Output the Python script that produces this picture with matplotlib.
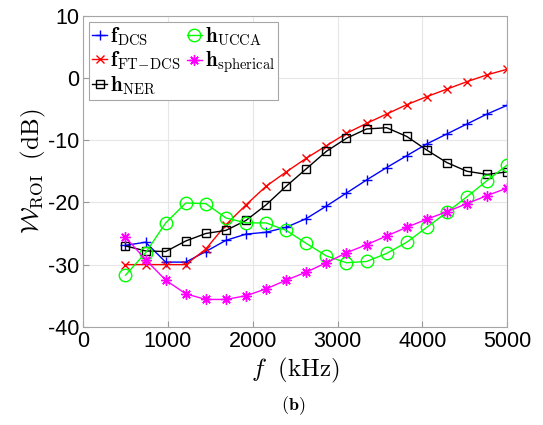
import numpy as np
import matplotlib.pyplot as plt

plt.rcParams['mathtext.fontset'] = 'cm'
plt.rcParams['font.family'] = ['Liberation Sans', 'DejaVu Sans']
plt.rcParams['axes.unicode_minus'] = False

# frequency points (kHz)
freq = [500, 737, 974, 1211, 1447, 1684, 1921, 2158, 2395, 2632,
        2868, 3105, 3342, 3579, 3816, 4053, 4289, 4526, 4763, 5000]

f_dcs = [-26.9, -26.4, -29.6, -29.6, -27.9, -26.1, -25.1, -24.8, -24.0, -22.6,
         -20.6, -18.5, -16.4, -14.4, -12.5, -10.6, -9.0, -7.4, -5.8, -4.4]
f_ft_dcs = [-30.0, -30.0, -30.0, -30.0, -27.5, -23.6, -20.4, -17.4, -15.1, -12.9,
            -10.9, -8.9, -7.3, -5.8, -4.3, -3.0, -1.8, -0.6, 0.5, 1.4]
h_ner = [-27.0, -27.8, -27.9, -26.2, -25.0, -24.5, -22.9, -20.4, -17.4, -14.6,
         -11.8, -9.7, -8.2, -8.0, -9.4, -11.6, -13.6, -15.0, -15.5, -15.1]
h_ucca = [-31.7, -28.1, -23.3, -20.1, -20.2, -22.5, -23.3, -23.3, -24.5, -26.6,
          -28.6, -29.7, -29.5, -28.2, -26.4, -24.0, -21.6, -19.1, -16.5, -14.0]
h_sph = [-25.6, -29.2, -32.5, -34.7, -35.6, -35.6, -35.0, -33.9, -32.5, -31.2,
         -29.7, -28.1, -26.8, -25.4, -24.0, -22.7, -21.5, -20.2, -18.9, -17.7]

fig = plt.figure(figsize=(5.43, 4.25), dpi=100)
ax = fig.add_axes([0.153, 0.231, 0.781, 0.732])

lw = 1.0
ax.plot(freq, f_dcs, color='b', marker='+', ms=7.5, mew=1, lw=lw,
        label=r'$\mathbf{f}_{\mathrm{DCS}}$')
ax.plot(freq, f_ft_dcs, color='r', marker='x', ms=6, mew=1, lw=lw,
        label=r'$\mathbf{f}_{\mathrm{FT}\!-\!\mathrm{DCS}}$')
ax.plot(freq, h_ner, color='k', marker='s', ms=6, mew=1, mfc='none', lw=lw,
        label=r'$\mathbf{h}_{\mathrm{NER}}$')
ax.plot(freq, h_ucca, color=(0, 1, 0), marker='o', ms=9, mew=1, mfc='none', lw=lw,
        label=r'$\mathbf{h}_{\mathrm{UCCA}}$')
ax.plot(freq, h_sph, color=(1, 0, 1), marker=(8, 2, 0), ms=7.5, mew=1, lw=lw,
        label=r'$\mathbf{h}_{\mathrm{spherical}}$')

ax.set_xlim(0, 5000)
ax.set_ylim(-40, 10)
ax.set_xticks([0, 1000, 2000, 3000, 4000, 5000])
ax.set_yticks([-40, -30, -20, -10, 0, 10])
ax.tick_params(direction='in', length=4, labelsize=15.5, color='0.6', pad=3)
ax.grid(True, color='0.9', lw=0.8)
ax.set_axisbelow(True)
for s in ax.spines.values():
    s.set_color('0.65')

ax.set_xlabel(r'$f\ \ (\mathrm{kHz})$', fontsize=18, labelpad=3)
ax.set_ylabel(r'$\mathcal{W}_{\mathrm{ROI}}\ \ (\mathrm{dB})$', fontsize=18, labelpad=0)

leg = ax.legend(loc='upper left', ncol=2, fontsize=15, handlelength=0.7,
                handletextpad=0.15, columnspacing=0.3, labelspacing=0.1,
                borderpad=0.15, borderaxespad=0.3, fancybox=False,
                edgecolor='0.65', framealpha=1)
leg.get_frame().set_linewidth(0.8)

fig.text(0.54, 0.035, r'$\mathbf{(b)}$', ha='center', fontsize=13)

fig.savefig('out.png', dpi=100)
